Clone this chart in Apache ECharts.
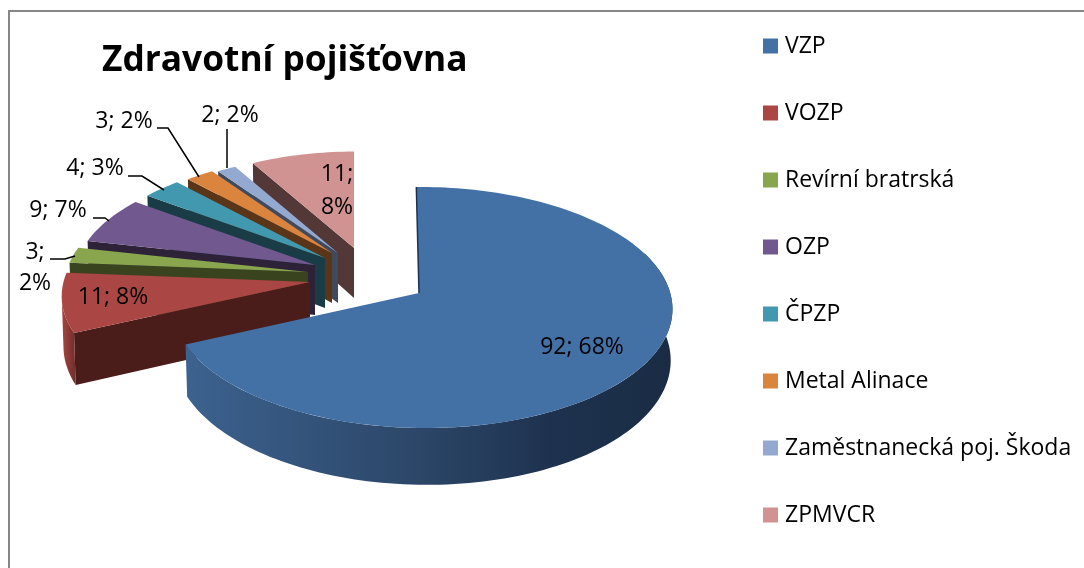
<!DOCTYPE html>
<html><head><meta charset="utf-8">
<script src="https://cdn.jsdelivr.net/npm/echarts@6/dist/echarts.min.js"></script>
<style>html,body{margin:0;padding:0;background:#fff}#c{width:1084px;height:568px}</style></head>
<body><div id="c"></div>
<script>
const titleText = 'Zdravotní pojišťovna';
const categories = ['VZP','VOZP','Revírní bratrská','OZP','ČPZP','Metal Alinace','Zaměstnanecká poj. Škoda','ZPMVCR'];
const values = [92,11,3,9,4,3,2,11];
const percents = [68,8,2,7,3,2,2,8];
const topColors = ['#4371A6','#AA4643','#89A54E','#71588F','#4198AF','#DB843D','#93A9CF','#D19392'];
const wallColors = ['#1E324F','#4A1C1A','#39441F','#2E2239','#1A3C47','#5A3518','#3F4A5F','#533837'];

// pie projection (3-D tilted with perspective)
const R = 252, RY = 118.8, K = 0.12, KX = 0.012, H = 50, SHRINK = 0.007;
// where each slice's apex sits and how much further back it is
const apexX = [419,310,308,315,325,332,338,354];
const apexY = [293,282,272,265,258,253,253,248];
const depthScale = [1,0.99,0.97,0.96,0.95,0.925,0.925,0.91];
const widthScale = [0.985,1,1,1,1,1,1,1];
const skew = [3,0,0,0,0,0,0,0];
// label anchors (centre): one row per text line, with the text built from values and percents
const labelRows = [
  [[582,347]],
  [[113,297]],
  [[35,252],[35,283]],
  [[58,210]],
  [[95,168]],
  [[124,121]],
  [[230,115]],
  [[337,174],[337,207]]
];
const leaders = [null,null,
  [[50,259],[65,259],[75,256]],
  [[93,218],[105,218],[109,221]],
  [[128,176],[142,176],[164,190]],
  [[157,128],[168,128],[199,177]],
  [[227,129],[227,168]],
  null];

const total = values.reduce((a,b)=>a+b,0);
let running = 0;
const starts = values.map(v=>{const s=running;running+=v;return s;});

function project(i, deg, r, z){
  const t = deg*Math.PI/180, u = Math.sin(t)*r, v = -Math.cos(t)*r;
  const p = 1/(1-K*v-KX*u), s = depthScale[i]*p;
  const shrink = 1-z*SHRINK;
  return [apexX[i]+(R*u*widthScale[i]+skew[i]*v)*s*shrink, apexY[i]+RY*v*s+z*H*p];
}
function arc(i,a,b,z){
  const n = Math.max(2,Math.ceil(Math.abs(b-a)/1.5)), pts=[];
  for(let k=0;k<=n;k++) pts.push(project(i,a+(b-a)*k/n,1,z));
  return pts;
}
function labelTexts(i){
  const one = values[i]+'; '+percents[i]+'%';
  return labelRows[i].length===1 ? [one] : [values[i]+';', percents[i]+'%'];
}
function makeSeries(i){
  return {
    type:'custom', name:categories[i], coordinateSystem:'none', z:10+(8-i),
    silent:true, animation:false, clip:false,
    itemStyle:{color:topColors[i]},
    data:[[starts[i],values[i]]],
    renderItem:function(params,api){
      const a0 = api.value(0)/total*360, a1 = (api.value(0)+api.value(1))/total*360;
      const kids=[];
      const poly=(pts,fill)=>kids.push({type:'polygon',shape:{points:pts},style:{fill:fill,stroke:null}});
      if(i>0){
        poly([project(i,a0,0,0),project(i,a0,1,0),project(i,a0,1,1),project(i,a0,0,1)],wallColors[i]);
      }
      const wa=Math.max(a0,70), wb=Math.min(a1,263);
      if(wb>wa){
        const up=arc(i,wa,wb,0), down=arc(i,wa,wb,1).reverse();
        const fill = i===0
          ? new echarts.graphic.LinearGradient(0,0,1,0,[
              {offset:0,color:'#3C628F'},{offset:0.5,color:'#2B4566'},{offset:0.75,color:'#1E324F'},{offset:1,color:'#1A2C44'}])
          : new echarts.graphic.LinearGradient(0,0,1,0,[{offset:0,color:'#A84543'},{offset:1,color:'#6E2D2B'}]);
        poly(up.concat(down),fill);
      }
      poly([project(i,a0,0,0)].concat(arc(i,a0,a1,0)),topColors[i]);
      if(i===0){
        kids.push({type:'polyline',shape:{points:[project(0,a0,1,0),project(0,a0,0,0)]},
          style:{stroke:'#1E324F',lineWidth:1.5,fill:null}});
      }
      if(leaders[i]) kids.push({type:'polyline',shape:{points:leaders[i]},style:{stroke:'#000',lineWidth:1.5,fill:null}});
      const texts=labelTexts(i);
      labelRows[i].forEach((l,k)=>kids.push({type:'text',z2:100,style:{text:texts[k],x:l[0],y:l[1],
        font:'23px "Open Sans"',fill:'#000',align:'center',verticalAlign:'middle'}}));
      return {type:'group',children:kids};
    }
  };
}
const chart = echarts.init(document.getElementById('c'),null,{renderer:'canvas'});
chart.setOption({
  backgroundColor:'#fff',
  animation:false,
  title:{text:titleText,left:97,top:38,textStyle:{fontFamily:'Open Sans',fontWeight:'bold',fontSize:35.3,color:'#000'}},
  legend:{orient:'vertical',left:758,top:28,itemWidth:15,itemHeight:15,itemGap:41,icon:'rect',
    selectedMode:false,data:categories,
    itemStyle:{borderWidth:0},
    textStyle:{fontFamily:'Open Sans',fontSize:23,color:'#000',padding:[3,0,0,2],lineHeight:23}},
  graphic:[{type:'rect',z:1,shape:{x:9,y:11,width:1200,height:800},style:{fill:null,stroke:'#868686',lineWidth:2},silent:true}],
  series:categories.map((c,i)=>makeSeries(i))
});
</script></body></html>
